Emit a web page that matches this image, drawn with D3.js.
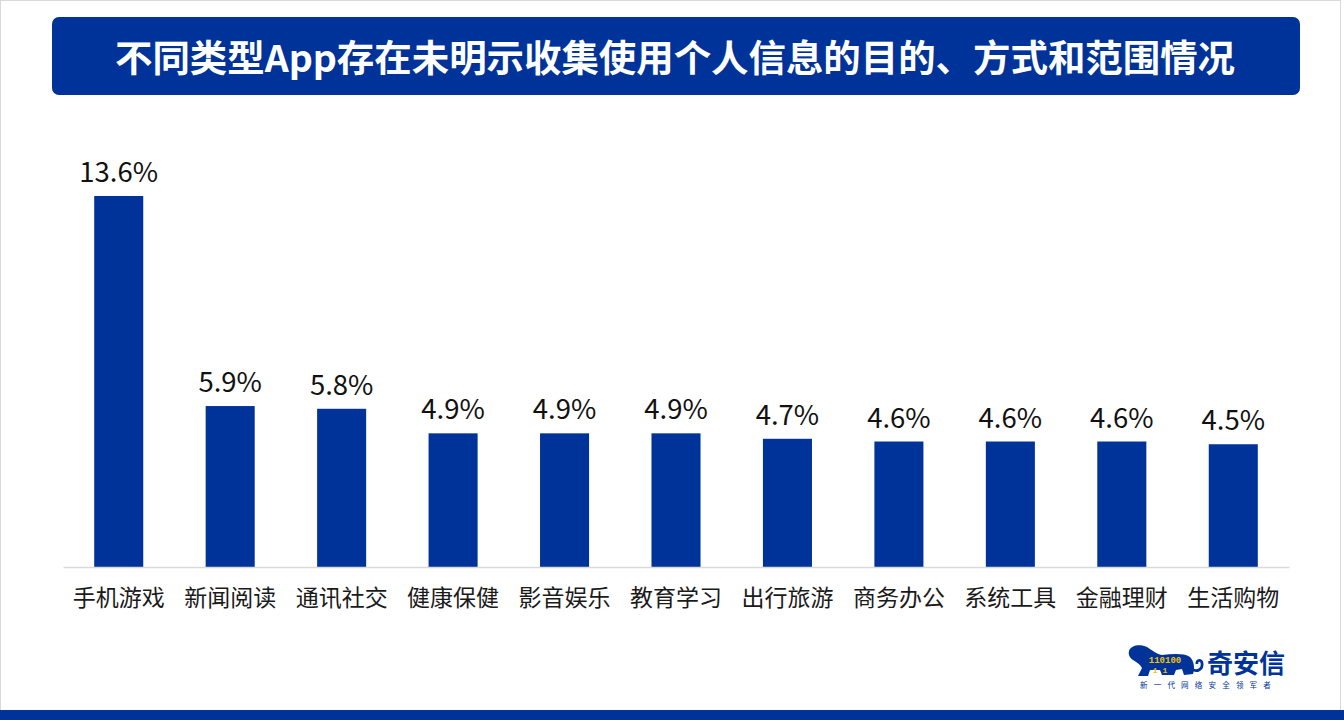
<!DOCTYPE html>
<html><head><meta charset="utf-8">
<script src="https://cdn.jsdelivr.net/npm/d3@7"></script>
<style>
html,body{margin:0;padding:0;background:#fff;}
svg{display:block;}
</style></head>
<body>
<script>
const categories = ["手机游戏","新闻阅读","通讯社交","健康保健","影音娱乐","教育学习","出行旅游","商务办公","系统工具","金融理财","生活购物"];
const values = [13.6,5.9,5.8,4.9,4.9,4.9,4.7,4.6,4.6,4.6,4.5];
const valueLabels = ["13.6%","5.9%","5.8%","4.9%","4.9%","4.9%","4.7%","4.6%","4.6%","4.6%","4.5%"];
const titleText = "不同类型App存在未明示收集使用个人信息的目的、方式和范围情况";

const W = 1344, H = 720;
const blue = "#003399";
const font = "'Noto Sans CJK SC','Microsoft YaHei',sans-serif";
const svg = d3.select("body").append("svg").attr("width", W).attr("height", H);

svg.append("rect").attr("x",0.5).attr("y",0.5).attr("width",W-4).attr("height",H-1)
  .attr("fill","#fff").attr("stroke","#d9d9d9");

// title bar
svg.append("rect").attr("x",52).attr("y",17).attr("width",1248).attr("height",78).attr("rx",7).attr("fill",blue);
svg.append("text").attr("x",675).attr("y",56).attr("text-anchor","middle").attr("dominant-baseline","central")
  .attr("fill","#fff").attr("font-family",font).attr("font-weight","bold").attr("font-size",37)
  .attr("textLength",1120).attr("lengthAdjust","spacingAndGlyphs").text(titleText);

// chart
const x = d3.scaleBand().domain(categories).range([63,1289]).paddingInner(0.56).paddingOuter(0.28);
const y = d3.scaleLinear().domain([0,16]).range([567, 567-16*27.28]);

svg.append("g").selectAll("rect").data(values).join("rect")
  .attr("x",(d,i)=>x(categories[i])).attr("width",x.bandwidth())
  .attr("y",d=>y(d)).attr("height",d=>y(0)-y(d)).attr("fill",blue);

const axis = svg.append("g").attr("transform",`translate(0,${y(0)})`)
  .call(d3.axisBottom(x).tickSize(0).tickPadding(23));
axis.select(".domain").attr("stroke","#d9d9d9").attr("stroke-width",1.3);
axis.selectAll("text").attr("font-family",font).attr("font-size",23).attr("fill","#1a1a1a");

svg.append("g").selectAll("text").data(values).join("text")
  .attr("x",(d,i)=>x(categories[i])+x.bandwidth()/2).attr("y",d=>y(d)-14)
  .attr("text-anchor","middle").attr("font-family",font).attr("font-size",27.5).attr("fill","#111")
  .text((d,i)=>valueLabels[i]);

// bottom band
svg.append("rect").attr("x",0).attr("y",710).attr("width",W).attr("height",10).attr("fill",blue);

// logo
const lg = svg.append("g");
lg.append("path").attr("fill",blue)
  .attr("d","M1129,651 C1131,645 1140,644 1147,647 C1152,650 1156,654 1162,655 C1172,654 1184,653 1190,657 C1194,661 1195,668 1193,674 L1184,675 L1182,669 L1176,670 L1174,675 L1162,675 L1160,670 L1150,670 L1148,676 L1138,676 L1142,668 C1140,664 1136,662 1133,660 C1130,658 1128,655 1129,651 Z");
lg.append("path").attr("fill","none").attr("stroke",blue).attr("stroke-width",2.8)
  .attr("d","M1192,669 C1197,673 1203,669 1202,663 C1201,659 1196,660 1197,664");
lg.append("text").attr("x",1165).attr("y",663).attr("text-anchor","middle").attr("font-family","Liberation Mono, monospace")
  .attr("font-size",9).attr("font-weight","bold").attr("fill","#f2c200").text("110100");
lg.append("text").attr("x",1160).attr("y",673).attr("text-anchor","middle").attr("font-family","Liberation Mono, monospace")
  .attr("font-size",8).attr("font-weight","bold").attr("fill","#f2c200").text("1 1");
lg.append("text").attr("x",1207).attr("y",673).attr("font-family",font).attr("font-weight","bold")
  .attr("font-size",26).attr("fill",blue).text("奇安信");
lg.append("text").attr("x",1140).attr("y",688).attr("font-family",font)
  .attr("font-size",7.5).attr("letter-spacing",6.2).attr("fill",blue).text("新一代网络安全领军者");
</script>
</body></html>
